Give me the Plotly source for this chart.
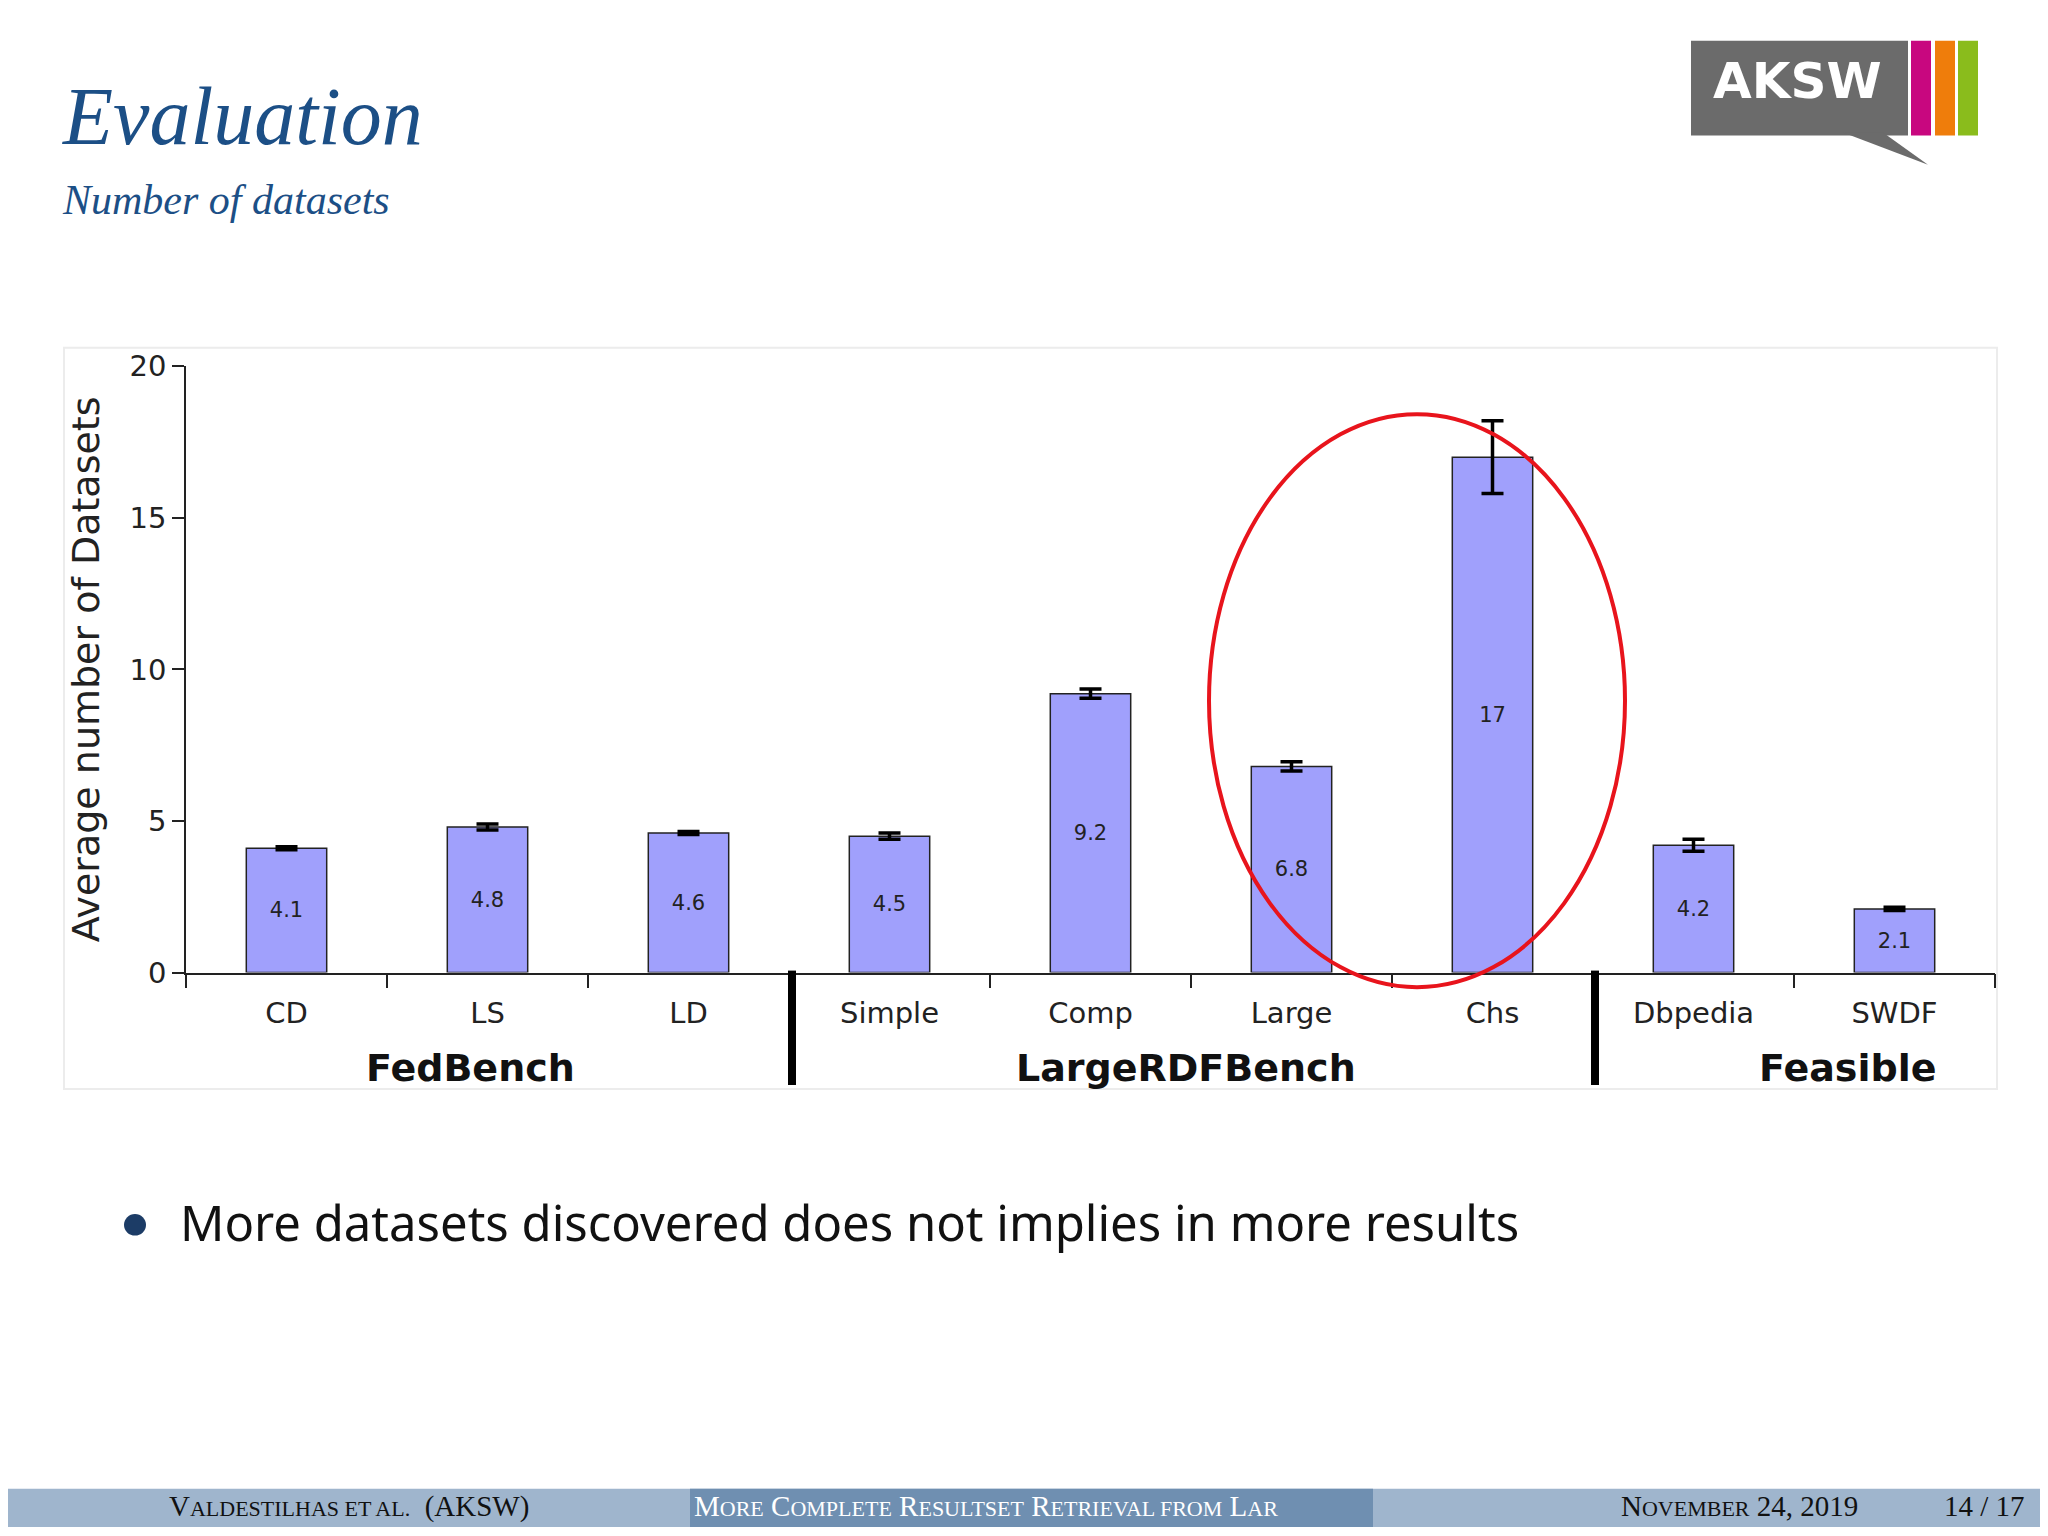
import plotly.graph_objects as go

categories = ["CD", "LS", "LD", "Simple", "Comp", "Large", "Chs", "Dbpedia", "SWDF"]
values = [4.1, 4.8, 4.6, 4.5, 9.2, 6.8, 17, 4.2, 2.1]
errors = [0.05, 0.1, 0.05, 0.1, 0.15, 0.15, 1.2, 0.2, 0.05]
groups = ["FedBench", "LargeRDFBench", "Feasible"]

W, H = 2048, 1536
def px(x): return x / W
def py(y): return 1 - y / H

pos = list(range(len(categories)))
fig = go.Figure()
fig.add_trace(go.Bar(
    x=pos, y=values, width=0.4,
    marker=dict(color="#a0a0fc", line=dict(color="#222", width=1.5)),
    error_y=dict(type="data", array=errors, color="black", thickness=3.5, width=11),
    text=[str(v) for v in values], textposition="inside", insidetextanchor="middle",
    textangle=0, textfont=dict(size=21, color="#222", family="DejaVu Sans"),
    showlegend=False))

fig.update_layout(
    width=W, height=H, margin=dict(l=0, r=0, t=0, b=0),
    paper_bgcolor="white", plot_bgcolor="white",
    font=dict(family="DejaVu Sans", color="#222"),
    xaxis=dict(domain=[px(178), px(1987)], range=[-0.5, 8.5],
               tickvals=pos, ticktext=categories, ticks="", ticklabelstandoff=14,
               tickfont=dict(size=29), showline=True, linecolor="#222", linewidth=1.5,
               showgrid=False, zeroline=False,
               minor=dict(tickvals=[i + 0.5 for i in range(-1, 9)], ticks="outside",
                          ticklen=14, tickcolor="#222", tickwidth=1.5)),
    yaxis=dict(domain=[py(969), py(349)], range=[0, 20], tickvals=[0, 5, 10, 15, 20],
               ticks="outside", ticklen=12, tickcolor="#222", tickwidth=1.5,
               tickfont=dict(size=29), showline=True, linecolor="#222", linewidth=1.5,
               showgrid=False, zeroline=False,
               title=dict(text="Average number of Datasets", font=dict(size=38), standoff=18)),
)

shapes = []
# chart frame (faint)
shapes.append(dict(type="rect", xref="paper", yref="paper", x0=px(56), x1=px(1989),
                   y0=py(1088), y1=py(330), line=dict(color="#ececec", width=2)))
# group separators
for xs in (784, 1587):
    shapes.append(dict(type="line", xref="paper", yref="paper", x0=px(xs), x1=px(xs),
                       y0=py(967), y1=py(1084), line=dict(color="black", width=8)))
# red ellipse
shapes.append(dict(type="circle", xref="paper", yref="paper",
                   x0=px(1409 - 208), x1=px(1409 + 208), y0=py(691 + 293), y1=py(691 - 293),
                   line=dict(color="#e8141c", width=4)))
# footer
shapes.append(dict(type="rect", xref="paper", yref="paper", x0=0, x1=1, y0=0, y1=py(1497),
                   fillcolor="#9fb5cd", line=dict(width=0), layer="below"))
shapes.append(dict(type="rect", xref="paper", yref="paper", x0=px(682), x1=px(1365), y0=0,
                   y1=py(1497), fillcolor="#6f8fb1", line=dict(width=0), layer="below"))
# logo
shapes.append(dict(type="rect", xref="paper", yref="paper", x0=px(1683), x1=px(1900),
                   y0=py(113), y1=py(16), fillcolor="#6b6b6b", line=dict(width=0)))
shapes.append(dict(type="path", xref="paper", yref="paper",
                   path=f"M {px(1835)},{py(110)} L {px(1920)},{py(143)} L {px(1875)},{py(110)} Z",
                   fillcolor="#6b6b6b", line=dict(width=0)))
for x0, c in ((1903, "#c8077f"), (1927, "#ef7d0b"), (1950, "#8abc1c")):
    shapes.append(dict(type="rect", xref="paper", yref="paper", x0=px(x0), x1=px(x0 + 20),
                       y0=py(113), y1=py(16), fillcolor=c, line=dict(width=0)))
# bullet
shapes.append(dict(type="circle", xref="paper", yref="paper", x0=px(116), x1=px(138),
                   y0=py(1238), y1=py(1216), fillcolor="#1c3c66", line=dict(width=0)))
fig.update_layout(shapes=shapes)

ann = []
def txt(x, y, s, size, color="#222", family="DejaVu Sans", xanchor="left"):
    ann.append(dict(xref="paper", yref="paper", x=px(x), y=py(y), text=s, showarrow=False,
                    xanchor=xanchor, yanchor="middle", font=dict(size=size, color=color, family=family)))

txt(52, 94, "<i>Evaluation</i>", 82, "#1c4f86", "Liberation Serif")
txt(52, 179, "<i>Number of datasets</i>", 42, "#1c4f86", "Liberation Serif")
txt(1789, 57, "<b>AKSW</b>", 50, "white", "DejaVu Sans", "center")
for g, gx, anchor in zip(groups, (462, 1178, 1930), ("center", "center", "right")):
    txt(gx, 1067, f"<b>{g}</b>", 38, "#111", "DejaVu Sans", anchor)
txt(170, 1224, "More datasets discovered does not implies in more results", 49, "#111", "Noto Sans")
txt(341, 1515, "V<span style='font-size:22px'>ALDESTILHAS ET AL.</span>  (AKSW)", 29, "#111", "Liberation Serif", "center")
txt(684, 1515, "M<span style='font-size:22px'>ORE</span> C<span style='font-size:22px'>OMPLETE</span> R<span style='font-size:22px'>ESULTSET</span> R<span style='font-size:22px'>ETRIEVAL FROM</span> L<span style='font-size:22px'>AR</span>", 29, "white", "Liberation Serif")
txt(1731, 1515, "N<span style='font-size:22px'>OVEMBER</span> 24, 2019", 29, "#111", "Liberation Serif", "center")
txt(1976, 1515, "14 / 17", 29, "#111", "Liberation Serif", "center")
fig.update_layout(annotations=ann)

fig.write_html("out.html")
